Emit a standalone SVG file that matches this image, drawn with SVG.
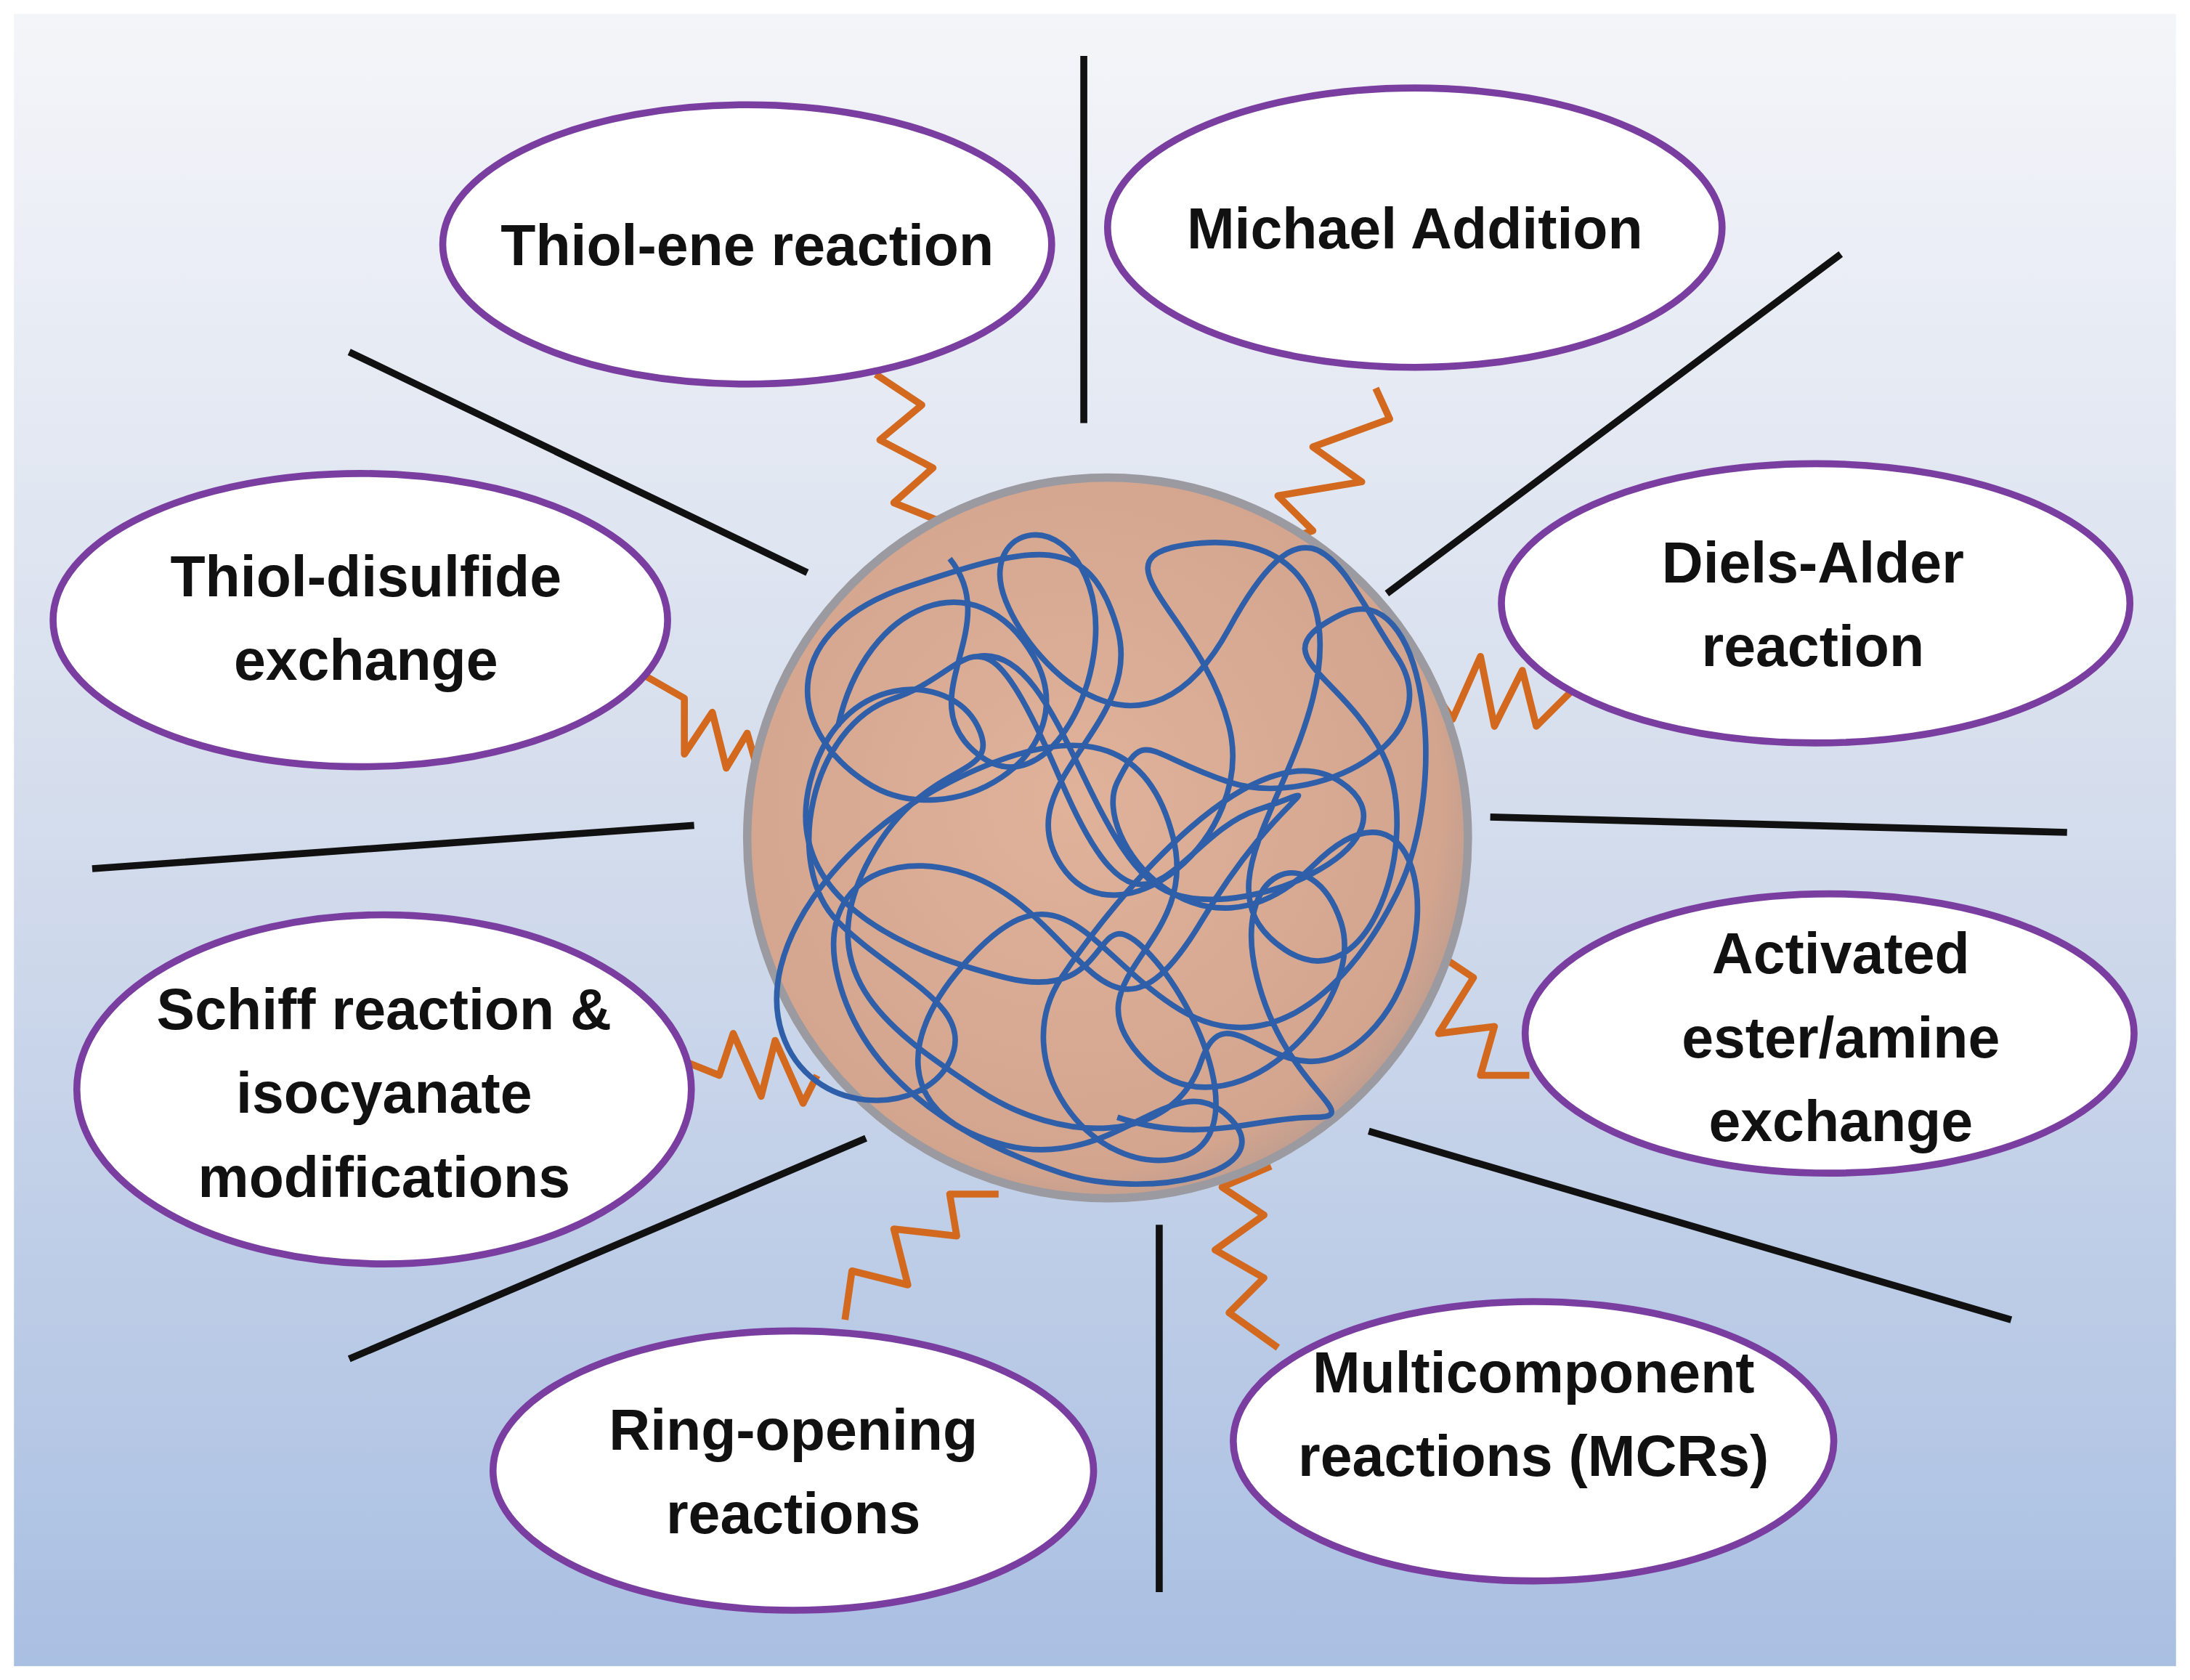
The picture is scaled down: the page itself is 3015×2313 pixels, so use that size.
<svg xmlns="http://www.w3.org/2000/svg" width="3015" height="2313" viewBox="0 0 3015 2313">
<defs>
<linearGradient id="bg" x1="0" y1="0" x2="0" y2="1"><stop offset="0" stop-color="#f4f5f9"/><stop offset="0.5" stop-color="#d3dcec"/><stop offset="1" stop-color="#a9bfe2"/></linearGradient>
<radialGradient id="ball" cx="0.45" cy="0.45" r="0.6"><stop offset="0" stop-color="#e0b29a"/><stop offset="0.85" stop-color="#d4a58e"/><stop offset="1" stop-color="#b79a90"/></radialGradient>
</defs>
<style>
.el{fill:#fff;stroke:#7a3ea0;stroke-width:5}
.t{font-family:"Liberation Sans",Arial,sans-serif;font-weight:bold;font-size:41px;fill:#111;text-anchor:middle}
.ln{stroke:#111;stroke-width:5;fill:none}
.w{stroke:#d2691e;stroke-width:5;fill:none;stroke-linejoin:round}
.b{fill:none;stroke:#2f5fa8;stroke-width:4}
</style>
<rect x="0" y="0" width="3015" height="2313" fill="#fff"/>
<g transform="scale(1.9228)">
<rect x="10" y="10" width="1548" height="1183" fill="url(#bg)"/>
<g id="connectors">
<path class="ln" d="M776,40V303 M1318,182L993,425 M1067,585L1480,596 M980,810L1440,945 M830,877V1140 M250,973L620,815 M66,622L497,591 M250,252L578,410"/>
<path class="w" d="M627,268 L660,290 L630,315 L668,335 L640,360 L690,380 L655,405"/>
<path class="w" d="M985,278 L995,300 L940,320 L975,345 L915,355 L940,380 L895,395"/>
<path class="w" d="M1125,495 L1100,520 L1090,480 L1070,520 L1060,470 L1040,515 L1020,485"/>
<path class="w" d="M1095,770 L1060,770 L1070,735 L1030,740 L1055,700 L1025,680"/>
<path class="w" d="M915,965 L880,940 L905,915 L870,895 L905,870 L875,850 L910,835"/>
<path class="w" d="M605,945 L610,910 L650,920 L640,880 L685,885 L680,855 L715,855"/>
<path class="w" d="M490,760 L515,770 L525,740 L545,785 L555,745 L575,790 L585,770"/>
<path class="w" d="M455,480 L490,500 L490,540 L510,510 L520,550 L535,525 L545,560"/>
</g>
<g id="core">
<circle cx="793" cy="600" r="258" fill="url(#ball)" stroke="#9a9aa0" stroke-width="6"/>
<path class="b" d="M600,520 C620,430 700,400 740,470 S680,600 620,560 S560,450 650,420 S780,380 800,450 S720,560 760,620 S900,600 880,520 S780,400 850,390 S960,420 940,500 S860,640 920,680 S1020,600 990,540 S900,470 960,440 S1040,560 1000,640 S900,760 840,720 S760,620 700,680 S640,800 720,820 S840,760 880,800 S820,860 760,840 S620,780 600,700 S660,600 720,640 S800,760 860,660 S960,560 900,580 S820,700 760,560 S700,480 640,500 S560,620 600,660 S700,720 680,760 S580,800 560,740 S600,600 680,560 S820,520 840,600 S760,700 820,760 S980,720 960,660 S880,620 900,700 S980,800 940,800 S860,820 800,800"/>
<path class="b" d="M680,400 C720,450 650,500 700,540 S800,480 780,420 S700,380 720,430 S820,560 880,450 S960,410 1000,470 S940,580 880,560 S820,520 800,560 S860,700 940,620 S1040,680 980,740 S880,700 860,760 S760,820 700,780 S580,700 620,620 S720,560 700,520 S600,480 580,560 S640,680 720,700 S780,640 820,680 S900,820 840,830 S720,760 760,700 S900,520 960,560 S900,660 840,640 S760,460 700,470"/>
</g>
<g id="n1"><ellipse class="el" cx="535" cy="175" rx="218" ry="100"/><text class="t" x="535" y="190">Thiol-ene reaction</text></g>
<g id="n2"><ellipse class="el" cx="1013" cy="163" rx="220" ry="100"/><text class="t" x="1013" y="178">Michael Addition</text></g>
<g id="n3"><ellipse class="el" cx="1300" cy="432" rx="225" ry="100"/><text class="t" x="1298" y="417">Diels-Alder</text><text class="t" x="1298" y="477">reaction</text></g>
<g id="n4"><ellipse class="el" cx="1310" cy="740" rx="218" ry="100"/><text class="t" x="1318" y="697">Activated</text><text class="t" x="1318" y="757">ester/amine</text><text class="t" x="1318" y="817">exchange</text></g>
<g id="n5"><ellipse class="el" cx="1098" cy="1032" rx="215" ry="100"/><text class="t" x="1098" y="997">Multicomponent</text><text class="t" x="1098" y="1057">reactions (MCRs)</text></g>
<g id="n6"><ellipse class="el" cx="568" cy="1053" rx="215" ry="100"/><text class="t" x="568" y="1038">Ring-opening</text><text class="t" x="568" y="1098">reactions</text></g>
<g id="n7"><ellipse class="el" cx="275" cy="780" rx="220" ry="125"/><text class="t" x="275" y="737">Schiff reaction &amp;</text><text class="t" x="275" y="797">isocyanate</text><text class="t" x="275" y="857">modifications</text></g>
<g id="n8"><ellipse class="el" cx="258" cy="444" rx="220" ry="105"/><text class="t" x="262" y="427">Thiol-disulfide</text><text class="t" x="262" y="487">exchange</text></g>
</g>
</svg>
